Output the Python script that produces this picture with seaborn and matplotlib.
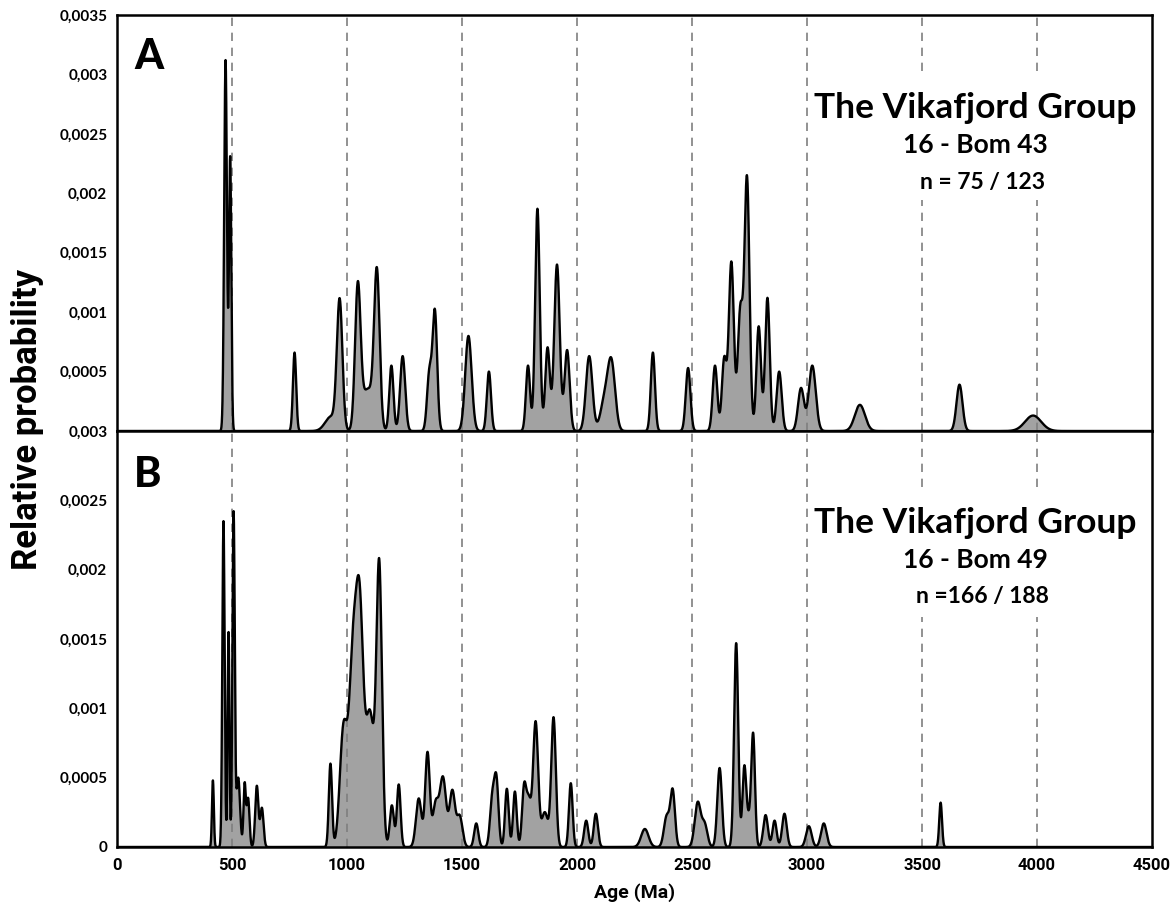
import numpy as np
import pandas as pd
import matplotlib
matplotlib.use("Agg")
import matplotlib.pyplot as plt
import seaborn as sns

# ---- Probability density components (age in Ma, peak height, 1-sigma in Ma) ----
# Sample 16 - Bom 43
a_ages = [472, 492, 772, 930, 968, 1047, 1090, 1130, 1193, 1242, 1358, 1382,
          1528, 1617, 1787, 1828, 1872, 1913, 1957, 2053, 2120, 2150, 2330,
          2483, 2600, 2640, 2671, 2710, 2739, 2790, 2828, 2879, 2974, 3023,
          3230, 3663, 3983]
a_heights = [0.00312, 0.00230, 0.00066, 0.00012, 0.00108, 0.00118, 0.00035,
             0.00128, 0.00055, 0.00063, 0.00048, 0.00100, 0.00080, 0.00050,
             0.00055, 0.00187, 0.00070, 0.00140, 0.00068, 0.00063, 0.00025,
             0.00055, 0.00066, 0.00053, 0.00055, 0.00060, 0.00142, 0.00100,
             0.00212, 0.00088, 0.00112, 0.00050, 0.00036, 0.00055, 0.00022,
             0.00039, 0.00013]
a_sigmas = [6, 5, 7, 25, 12, 12, 25, 12, 9, 11, 10, 10, 14, 9, 9, 10, 10, 12,
            11, 14, 18, 16, 9, 10, 10, 10, 11, 11, 11, 10, 10, 11, 13, 15, 22,
            13, 35]

# Sample 16 - Bom 49
b_ages = [417, 463, 485, 507, 527, 555, 570, 608, 630, 928, 985, 1025, 1055,
          1100, 1140, 1195, 1225, 1312, 1350, 1385, 1417, 1458, 1490, 1562,
          1632, 1650, 1695, 1730, 1770, 1790, 1820, 1860, 1898, 1973, 2040,
          2082, 2295, 2390, 2416, 2525, 2555, 2620, 2692, 2727, 2745, 2766,
          2820, 2859, 2902, 3008, 3073, 3581]
b_heights = [0.00048, 0.00235, 0.00155, 0.00240, 0.00050, 0.00045, 0.00035,
             0.00044, 0.00028, 0.00060, 0.00085, 0.00125, 0.00165, 0.00095,
             0.00200, 0.00030, 0.00045, 0.00035, 0.00068, 0.00030, 0.00050,
             0.00040, 0.00022, 0.00017, 0.00035, 0.00045, 0.00042, 0.00040,
             0.00042, 0.00032, 0.00090, 0.00025, 0.00093, 0.00046, 0.00019,
             0.00024, 0.00013, 0.00022, 0.00040, 0.00032, 0.00016, 0.00057,
             0.00147, 0.00052, 0.00020, 0.00078, 0.00023, 0.00019, 0.00024,
             0.00015, 0.00017, 0.00032]
b_sigmas = [4, 5, 4, 5, 8, 5, 6, 7, 7, 7, 16, 16, 16, 18, 12, 9, 8, 12, 10,
            12, 14, 12, 12, 9, 10, 9, 8, 8, 9, 10, 11, 14, 10, 8, 9, 9, 16, 12,
            10, 13, 12, 10, 9, 8, 12, 8, 10, 9, 10, 12, 12, 6]

panel_letters = ["A", "B"]
titles = ["The Vikafjord Group", "The Vikafjord Group"]
samples = ["16 - Bom 43", "16 - Bom 49"]
counts = ["n = 75 / 123", "n =166 / 188"]

top_ticks = [0.0005, 0.001, 0.0015, 0.002, 0.0025, 0.003, 0.0035]
top_ticklabels = ["0,0005", "0,001", "0,0015", "0,002", "0,0025", "0,003", "0,0035"]
bottom_ticks = [0, 0.0005, 0.001, 0.0015, 0.002, 0.0025, 0.003]
bottom_ticklabels = ["0", "0,0005", "0,001", "0,0015", "0,002", "0,0025", "0,003"]
x_ticks = [0, 500, 1000, 1500, 2000, 2500, 3000, 3500, 4000, 4500]
ref_lines = [500, 1000, 1500, 2000, 2500, 3000, 3500, 4000]


def density(ages, heights, sigmas, grid):
    y = np.zeros_like(grid)
    for m, h, s in zip(ages, heights, sigmas):
        y += h * np.exp(-0.5 * ((grid - m) / s) ** 2)
    return y


grid = np.linspace(0, 4500, 9001)
frame_a = pd.DataFrame({"age": grid, "p": density(a_ages, a_heights, a_sigmas, grid)})
frame_b = pd.DataFrame({"age": grid, "p": density(b_ages, b_heights, b_sigmas, grid)})

sns.set_theme(style="white")
plt.rcParams["font.family"] = ["Lato", "DejaVu Sans"]
plt.rcParams["text.color"] = "black"
plt.rcParams["xtick.color"] = "black"
plt.rcParams["ytick.color"] = "black"
plt.rcParams["axes.labelcolor"] = "black"

fig = plt.figure(figsize=(11.76, 9.17), dpi=100)
left, right = 117 / 1176, 1152 / 1176
y_top, y_mid, y_bot = 1 - 15 / 917, 1 - 431 / 917, 1 - 847 / 917
ax_a = fig.add_axes([left, y_mid, right - left, y_top - y_mid])
ax_b = fig.add_axes([left, y_bot, right - left, y_mid - y_bot])

fill_col = "#a2a2a2"
dash_col = "#7f7f7f"

panels = [
    (ax_a, frame_a, 0.0035, top_ticks, top_ticklabels, 15, (75, 200)),
    (ax_b, frame_b, 0.003, bottom_ticks, bottom_ticklabels, 431, (493, 617)),
]

for i, (ax, df, ymax, yt, ytl, panel_top, box_px) in enumerate(panels):
    ax.set_xlim(0, 4500)
    ax.set_ylim(0, ymax)
    ax.fill_between(df["age"], 0, df["p"], color=fill_col, lw=0, zorder=1)
    for xv in ref_lines:
        ax.axvline(xv, color=dash_col, lw=1.2, ls=(0, (5, 4)), zorder=2)
    sns.lineplot(data=df, x="age", y="p", ax=ax, color="black", lw=1.7, zorder=4)
    ax.set_xlabel("")
    ax.set_ylabel("")
    ax.set_yticks(yt)
    ax.set_yticklabels(ytl, fontsize=11, fontweight="bold")
    ax.tick_params(axis="y", length=0, pad=7)
    for sp in ax.spines.values():
        sp.set_color("black")
        sp.set_linewidth(1.8)
        sp.set_zorder(6)

    # white backing behind the labels so the reference lines break there
    y0 = 1 - (box_px[1] - panel_top) / 416
    y1 = 1 - (box_px[0] - panel_top) / 416
    ax.add_patch(plt.Rectangle((0.672, y0), 0.32, y1 - y0, transform=ax.transAxes,
                               facecolor="white", edgecolor="none", zorder=3))

    ax.text(0.0165, 0.945 if i == 0 else 0.94, panel_letters[i], transform=ax.transAxes,
            ha="left", va="top", fontsize=30, fontweight="black", zorder=5)

    base = 0.776 if i == 0 else 0.779
    ax.text(0.829, base, titles[i], transform=ax.transAxes, ha="center", va="center",
            fontsize=25.5, fontweight="bold", zorder=5)
    ax.text(0.829, base - 0.088, samples[i], transform=ax.transAxes, ha="center",
            va="center", fontsize=19, fontweight="bold", zorder=5)
    ax.text(0.836, base - 0.178, counts[i], transform=ax.transAxes, ha="center",
            va="center", fontsize=16.5, fontweight="bold", zorder=5)

narrow = ["Roboto", "DejaVu Sans"]
ax_a.set_xticks(x_ticks)
ax_a.tick_params(axis="x", bottom=False, labelbottom=False)
ax_b.set_xticks(x_ticks)
ax_b.set_xticklabels([str(v) for v in x_ticks], fontsize=12, fontweight="bold",
                     family=narrow)
ax_b.tick_params(axis="x", length=0, pad=8)

fig.text(635 / 1176, 1 - 893 / 917, "Age (Ma)", ha="center", va="center",
         fontsize=14, fontweight="bold", family=narrow)
fig.text(28 / 1176, 1 - 419 / 917, "Relative probability", rotation=90,
         ha="center", va="center", fontsize=25, fontweight="bold", family=narrow)

fig.savefig("out.png", dpi=100, facecolor="white")
